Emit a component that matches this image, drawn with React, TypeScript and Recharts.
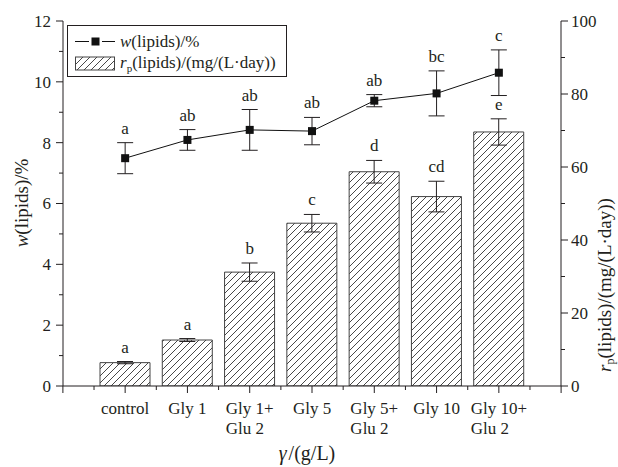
import React from "react";
import {
  ComposedChart,
  Bar,
  Line,
  XAxis,
  YAxis,
  ErrorBar,
  LabelList,
} from "recharts";

// ---- data ----
const catLine1 = ["control", "Gly 1", "Gly 1+", "Gly 5", "Gly 5+", "Gly 10", "Gly 10+"];
const catLine2 = ["", "", "Glu 2", "", "Glu 2", "", "Glu 2"];

const wLipids = [7.49, 8.09, 8.42, 8.38, 9.38, 9.62, 10.3];
const wErr = [0.51, 0.34, 0.67, 0.45, 0.2, 0.74, 0.75];
const wLetters = ["a", "ab", "ab", "ab", "ab", "bc", "c"];

const rLipids = [6.4, 12.6, 31.2, 44.6, 58.7, 51.9, 69.6];
const rErr = [0.3, 0.4, 2.5, 2.4, 3.1, 4.2, 3.6];
const rLetters = ["a", "a", "b", "c", "d", "cd", "e"];

const leftTicks = [0, 1, 2, 3, 4, 5, 6, 7, 8, 9, 10, 11, 12];
const rightTicks = [0, 10, 20, 30, 40, 50, 60, 70, 80, 90, 100];

const data = catLine1.map((c, i) => ({
  name: c + (catLine2[i] ? " " + catLine2[i] : ""),
  w: wLipids[i],
  wErr: wErr[i],
  wTop: wLipids[i] + wErr[i],
  wLetter: wLetters[i],
  r: rLipids[i],
  rErr: rErr[i],
  rTop: rLipids[i] + rErr[i],
  rLetter: rLetters[i],
}));

const FONT = "'Liberation Serif', 'Times New Roman', serif";
const INK = "#231f20";

// layout
const CHART_W = 618;
const CHART_H = 467;
const MARGIN = { top: 21, right: 17, bottom: 51, left: 23 };
const Y_W = 40;
const PLOT_W = CHART_W - MARGIN.left - MARGIN.right - 2 * Y_W;
const BAND = PLOT_W / (catLine1.length + 1);

const charW: Record<string, number> = {
  G: 0.722, l: 0.278, y: 0.5, " ": 0.25, "+": 0.564, c: 0.444, o: 0.5, n: 0.5,
  t: 0.278, r: 0.333, "0": 0.5, "1": 0.5, "2": 0.5, "5": 0.5, u: 0.5,
};
const textWidth = (s: string, fs: number) =>
  s.split("").reduce((a, ch) => a + (charW[ch] ?? 0.5), 0) * fs;

const XTick = (props: any) => {
  const { x, y, index } = props;
  const n = catLine1.length;
  const l1 = catLine1[index] ?? "";
  const l2 = catLine2[index] ?? "";
  const fs = 17;
  const start = x - textWidth(l1, fs) / 2;
  const tick = (tx: number, len: number, k: string) => (
    <line key={k} x1={tx} x2={tx} y1={y} y2={y + len} stroke={INK} strokeWidth={1} />
  );
  return (
    <g>
      {tick(x, 7, "maj")}
      {tick(x - BAND / 2, 4, "minL")}
      {index === 0 && tick(x - BAND, 7, "edgeL")}
      {index === n - 1 && tick(x + BAND / 2, 4, "minR")}
      {index === n - 1 && tick(x + BAND, 7, "edgeR")}
      <text x={start} y={y + 28} fontSize={fs} fontFamily={FONT} fill={INK} textAnchor="start">
        {l1}
      </text>
      {l2 && (
        <text x={start} y={y + 48} fontSize={fs} fontFamily={FONT} fill={INK} textAnchor="start">
          {l2}
        </text>
      )}
    </g>
  );
};

const LeftTick = (props: any) => {
  const { x, y, payload } = props;
  const v = payload.value as number;
  const major = v % 2 === 0;
  return (
    <g>
      <line x1={x} x2={x - (major ? 7 : 4)} y1={y} y2={y} stroke={INK} strokeWidth={1} />
      {major && (
        <text x={x - 12} y={y} dy="0.35em" textAnchor="end" fontSize={17} fontFamily={FONT} fill={INK}>
          {v}
        </text>
      )}
    </g>
  );
};

const RightTick = (props: any) => {
  const { x, y, payload } = props;
  const v = payload.value as number;
  const major = v % 20 === 0;
  return (
    <g>
      <line x1={x} x2={x + (major ? 7 : 4)} y1={y} y2={y} stroke={INK} strokeWidth={1} />
      {major && (
        <text x={x + 10} y={y} dy="0.35em" textAnchor="start" fontSize={17} fontFamily={FONT} fill={INK}>
          {v}
        </text>
      )}
    </g>
  );
};

const LetterLabel = (props: any) => {
  const { x, y, width, value } = props;
  const cx = (x as number) + ((width as number) || 0) / 2;
  return (
    <text x={cx} y={(y as number) - 9} textAnchor="middle" fontSize={17} fontFamily={FONT} fill={INK}>
      {value}
    </text>
  );
};

const SquareDot = (props: any) => {
  const { cx, cy, index } = props;
  return <rect key={`sq-${index}`} x={cx - 4} y={cy - 4} width={8} height={8} fill="#111" />;
};

export default function App() {
  return (
    <div style={{ position: "absolute", left: 0, top: 0, width: CHART_W, height: CHART_H, background: "#fff" }}>
      <svg width={0} height={0} style={{ position: "absolute" }}>
        <defs>
          <pattern id="hatch" patternUnits="userSpaceOnUse" width={7} height={7}>
            <rect width={7} height={7} fill="#fff" />
            <path d="M0,7 L7,0 M-1,1 L1,-1 M6,8 L8,6" stroke="#333" strokeWidth={0.9} />
          </pattern>
        </defs>
      </svg>
      <ComposedChart width={CHART_W} height={CHART_H} data={data} margin={MARGIN}>
        <XAxis
          xAxisId="cat"
          dataKey="name"
          type="category"
          padding={{ left: Math.round(BAND / 2), right: Math.round(BAND / 2) }}
          height={30}
          interval={0}
          tickSize={0}
          tickMargin={0}
          tickLine={false}
          tick={<XTick />}
          axisLine={{ stroke: INK, strokeWidth: 1 }}
        />
        <XAxis
          xAxisId="top"
          orientation="top"
          type="number"
          domain={[0, 8]}
          allowDataOverflow
          height={0}
          tick={false}
          tickLine={false}
          axisLine={{ stroke: INK, strokeWidth: 1 }}
        />
        <YAxis
          yAxisId="left"
          domain={[0, 12]}
          ticks={leftTicks}
          interval={0}
          width={Y_W}
          tickSize={0}
          tickMargin={0}
          tickLine={false}
          tick={<LeftTick />}
          allowDataOverflow
          axisLine={{ stroke: INK, strokeWidth: 1 }}
        />
        <YAxis
          yAxisId="right"
          orientation="right"
          domain={[0, 100]}
          ticks={rightTicks}
          interval={0}
          width={Y_W}
          tickSize={0}
          tickMargin={0}
          tickLine={false}
          tick={<RightTick />}
          allowDataOverflow
          axisLine={{ stroke: INK, strokeWidth: 1 }}
        />
        <Bar
          xAxisId="cat"
          yAxisId="right"
          dataKey="r"
          barSize={50}
          fill="url(#hatch)"
          stroke="#444"
          strokeWidth={1}
          isAnimationActive={false}
        >
          <ErrorBar dataKey="rErr" width={8} stroke={INK} strokeWidth={1} direction="y" />
        </Bar>
        <Line
          xAxisId="cat"
          yAxisId="right"
          dataKey="rTop"
          stroke="none"
          dot={false}
          activeDot={false}
          isAnimationActive={false}
        >
          <LabelList dataKey="rLetter" content={<LetterLabel />} />
        </Line>
        <Line
          xAxisId="cat"
          yAxisId="left"
          dataKey="w"
          stroke="#111"
          strokeWidth={1}
          dot={<SquareDot />}
          activeDot={false}
          isAnimationActive={false}
        >
          <ErrorBar dataKey="wErr" width={8} stroke={INK} strokeWidth={1} direction="y" />
        </Line>
        <Line
          xAxisId="cat"
          yAxisId="left"
          dataKey="wTop"
          stroke="none"
          dot={false}
          activeDot={false}
          isAnimationActive={false}
        >
          <LabelList dataKey="wLetter" content={<LetterLabel />} />
        </Line>
      </ComposedChart>
      <svg
        width={CHART_W}
        height={CHART_H}
        style={{ position: "absolute", left: 0, top: 0, pointerEvents: "none" }}
      >
        {/* legend */}
        <rect x={67.5} y={25.5} width={219} height={51} fill="#fff" stroke={INK} strokeWidth={1} />
        <line x1={75} x2={89} y1={41.5} y2={41.5} stroke="#111" strokeWidth={1} />
        <line x1={102} x2={115} y1={41.5} y2={41.5} stroke="#111" strokeWidth={1} />
        <rect x={91.5} y={37.5} width={8} height={8} fill="#111" />
        <text x={120} y={47} fontSize={17} fontFamily={FONT} fill={INK}>
          <tspan fontStyle="italic">w</tspan>(lipids)/%
        </text>
        <rect x={75.5} y={57} width={39} height={13} fill="url(#hatch)" stroke="#444" strokeWidth={1} />
        <text x={120} y={68} fontSize={17} fontFamily={FONT} fill={INK}>
          <tspan fontStyle="italic">r</tspan>
          <tspan fontSize={11} dy={4}>p</tspan>
          <tspan dy={-4}>(lipids)/(mg/(L·day))</tspan>
        </text>
        {/* axis titles */}
        <text
          x={28}
          y={203}
          transform="rotate(-90, 28, 203)"
          textAnchor="middle"
          fontSize={19}
          fontFamily={FONT}
          fill={INK}
        >
          <tspan fontStyle="italic">w</tspan>(lipids)/%
        </text>
        <text
          x={611}
          y={285}
          transform="rotate(-90, 611, 285)"
          textAnchor="middle"
          fontSize={19}
          fontFamily={FONT}
          fill={INK}
        >
          <tspan fontStyle="italic">r</tspan>
          <tspan fontSize={12} dy={3}>p</tspan>
          <tspan dy={-3}>(lipids)/(mg/(L·day))</tspan>
        </text>
        <text x={307} y={460} textAnchor="middle" fontSize={20} fontFamily={FONT} fill={INK}>
          <tspan fontStyle="italic">γ</tspan>
          <tspan dx={2}>/(g/L)</tspan>
        </text>
      </svg>
    </div>
  );
}
